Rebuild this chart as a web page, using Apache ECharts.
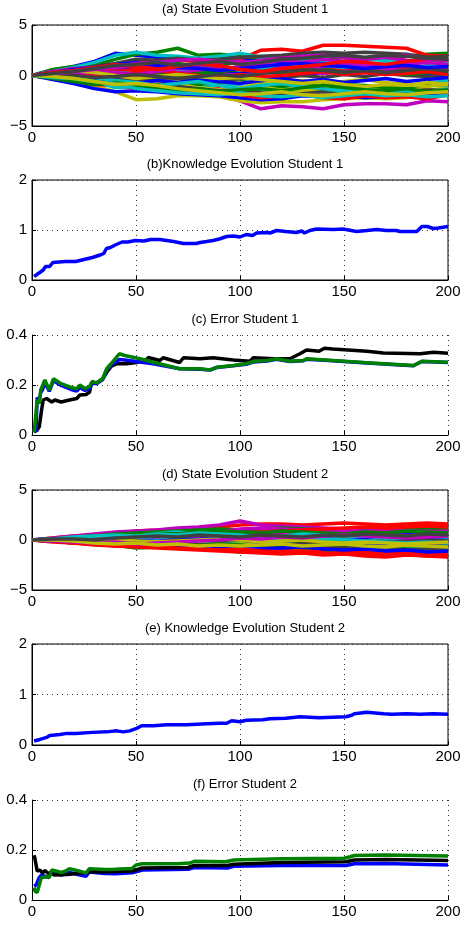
<!DOCTYPE html>
<html>
<head>
<meta charset="utf-8">
<style>
  html, body { margin: 0; padding: 0; background: #fff; }
  #chart { width: 465px; height: 927px; }
</style>
</head>
<body>
<div id="chart"></div>
<script src="https://cdn.jsdelivr.net/npm/echarts@6/dist/echarts.min.js"></script>
<script>
// MATLAB default colour order: b g r c m y k(dark gray)
var matlabColors = ['#0000ff', '#008000', '#ff0000', '#00bfbf', '#bf00bf', '#bfbf00', '#404040'];

// sampling steps for the state evolution panels
var stepT = [0, 10, 20, 30, 40, 50, 60, 70, 80, 90, 100, 110, 120, 130, 140, 150, 160, 170, 180, 190, 200];

// (a) State Evolution Student 1
var state1 = [
  [0,0.5,0.9,1.4,2.2,2.0,1.8,1.6,1.5,1.7,1.6,1.4,1.3,1.5,1.2,1.0,1.1,0.9,0.8,0.7,0.6],
  [0,0.6,0.9,1.0,1.6,2.1,2.3,2.7,2.0,2.1,1.9,1.7,1.8,1.6,1.5,1.8,1.6,1.7,1.9,2.1,2.2],
  [0,0.3,0.4,0.7,0.9,1.2,1.3,1.5,1.4,1.5,1.6,2.5,2.6,2.4,3.0,3.0,2.9,2.8,2.7,2.0,1.9],
  [0,0.4,0.8,1.3,2.0,2.3,2.0,1.9,1.7,1.9,2.2,1.8,1.6,1.4,1.5,1.3,1.5,1.6,1.4,1.5,1.3],
  [0,-0.3,-0.5,-0.8,-0.9,-1.0,-1.2,-1.4,-1.6,-2.0,-2.5,-3.3,-3.0,-3.1,-3.3,-2.9,-2.8,-2.8,-2.9,-2.5,-2.6],
  [0,-0.2,-0.6,-1.0,-1.6,-2.4,-2.3,-2.0,-2.0,-2.1,-2.5,-2.7,-2.6,-2.6,-2.4,-2.3,-2.2,-2.3,-2.2,-1.5,-1.2],
  [0,0.3,0.6,0.9,1.2,1.6,1.5,1.7,1.5,1.6,1.8,1.9,2.0,2.2,2.3,2.2,2.3,2.2,2.1,1.8,1.9],
  [0,-0.4,-0.8,-1.3,-1.6,-1.5,-1.6,-1.8,-1.9,-2.0,-2.2,-2.4,-2.3,-2.0,-2.1,-2.0,-2.2,-2.1,-2.0,-1.8,-1.7],
  [0,0.2,0.5,0.5,0.9,0.8,1.0,1.2,0.9,1.1,1.3,0.9,1.0,0.7,0.8,0.6,0.5,0.7,0.6,0.4,0.3],
  [0,-0.2,-0.5,-0.9,-1.0,-1.3,-1.1,-1.0,-1.4,-1.3,-1.9,-2.2,-2.0,-1.8,-2.2,-2.3,-2.0,-2.2,-2.1,-2.3,-1.9],
  [0,-0.1,-0.4,-0.6,-1.2,-1.1,-1.4,-1.2,-1.3,-0.9,-1.1,-1.4,-1.6,-1.7,-1.5,-1.3,-1.2,-1.0,-0.9,-0.8,-0.5],
  [0,0.4,0.7,0.8,0.6,0.9,1.1,0.8,1.0,1.3,1.4,1.2,1.5,1.3,1.6,1.4,1.6,1.8,1.5,1.2,1.0],
  [0,0.2,0.4,0.2,-0.2,-0.4,-0.5,-0.9,-1.2,-1.4,-1.2,-1.0,-1.3,-1.5,-1.4,-1.7,-1.5,-1.3,-1.2,-1.4,-1.3],
  [0,-0.1,-0.3,-0.5,-0.8,-1.0,-0.8,-1.1,-1.3,-1.5,-1.4,-1.7,-1.9,-1.8,-1.6,-1.7,-1.5,-1.7,-1.6,-1.4,-1.5],
  [0,0.1,0.3,0.2,0.4,0.7,0.5,0.3,0.6,0.4,0.2,0.5,0.3,0.1,0.3,0.5,0.4,0.2,0.3,0.1,-0.1],
  [0,-0.2,-0.2,-0.5,-0.4,-0.3,-0.6,-0.5,-0.9,-0.7,-0.6,-0.8,-1.1,-0.9,-0.7,-0.9,-1.0,-1.2,-1.1,-1.0,-0.9],
  [0,0.2,0.3,0.5,0.4,0.6,0.8,0.6,0.5,0.9,0.7,0.3,0.4,0.6,0.5,0.7,0.9,0.6,0.8,0.9,0.7],
  [0,0.1,0.2,0.1,0.3,0.2,0.4,0.6,0.3,0.5,0.8,0.6,0.9,0.7,1.0,0.8,1.1,1.3,1.0,0.9,1.2],
  [0,-0.1,0.0,0.2,0.1,-0.2,0.1,0.3,0.4,0.2,0.0,0.3,0.5,0.4,0.2,0.4,0.3,0.6,0.5,0.7,0.8],
  [0,0.1,-0.1,-0.3,-0.5,-0.3,-0.6,-0.4,-0.2,-0.4,-0.7,-0.9,-0.7,-0.5,-0.8,-0.6,-0.4,-0.7,-0.9,-1.1,-0.8],
  [0,0.0,-0.2,-0.4,-0.3,-0.5,-0.3,-0.2,-0.4,-0.6,-0.3,-0.1,-0.2,0.0,-0.2,0.1,-0.1,0.2,0.0,-0.1,0.2],
  [0,-0.2,-0.4,-0.3,-0.6,-0.8,-0.5,-0.7,-0.4,-0.6,-0.8,-0.5,-0.3,-0.6,-0.4,-0.7,-0.5,-0.3,-0.6,-0.4,-0.2],
  [0,0.1,0.3,0.4,0.2,0.1,0.3,0.0,0.2,0.4,0.6,0.4,0.2,0.4,0.6,0.3,0.5,0.3,0.1,0.3,0.5],
  [0,0.0,0.2,-0.1,0.1,0.3,0.5,0.2,0.0,-0.2,0.1,-0.1,0.0,0.2,0.4,0.1,0.3,0.1,0.2,0.4,0.1],
  [0,-0.1,-0.3,-0.2,-0.5,-0.7,-1.0,-0.8,-0.6,-1.0,-1.3,-1.0,-0.8,-1.1,-1.3,-1.6,-1.4,-1.6,-1.5,-1.7,-1.3],
  [0,0.2,0.1,0.4,0.3,0.1,0.4,0.7,0.8,0.6,0.9,1.1,0.9,0.7,0.9,1.2,1.0,0.9,1.1,1.3,1.1],
  [0,0.2,0.5,0.3,0.0,-0.3,-0.1,0.1,-0.1,-0.3,-0.2,-0.4,-0.6,-0.8,-0.6,-0.9,-1.1,-0.9,-1.0,-0.7,-0.9],
  [0,0.1,0.0,-0.2,-0.1,0.1,-0.1,-0.3,-0.1,0.1,-0.1,0.2,0.4,0.6,0.5,0.3,0.5,0.3,0.5,0.7,0.4],
  [0,0.3,0.6,0.8,1.1,1.3,1.0,0.8,0.7,0.5,0.7,0.9,1.1,1.2,1.0,0.9,0.7,0.9,1.0,0.8,0.9],
  [0,-0.3,-0.6,-0.9,-0.7,-1.0,-1.2,-1.5,-1.3,-1.6,-1.4,-1.3,-1.5,-1.2,-1.0,-1.2,-1.4,-1.5,-1.3,-1.6,-1.4],
  [0,0.3,0.5,0.8,1.1,0.9,0.6,0.9,1.2,1.0,0.6,0.4,0.7,0.9,1.1,1.4,1.3,1.1,1.4,1.6,1.5],
  [0,-0.2,-0.3,-0.6,-0.8,-1.3,-1.5,-1.7,-1.8,-1.9,-1.7,-2.0,-2.1,-1.9,-2.2,-2.0,-1.8,-2.0,-1.9,-2.1,-2.0],
  [0,0.1,0.4,0.6,0.9,1.2,1.3,1.5,1.6,1.4,1.2,1.5,1.7,1.9,2.0,1.8,1.7,1.9,2.0,1.6,1.5],
  [0,-0.1,-0.3,-0.6,-0.9,-0.8,-1.0,-1.3,-1.5,-1.7,-1.9,-1.8,-1.6,-1.9,-2.0,-1.8,-1.6,-1.8,-1.9,-1.7,-1.6],
  [0,0.2,0.4,0.7,1.0,1.1,1.3,1.0,1.2,1.4,1.1,1.3,1.6,1.7,1.9,2.0,1.8,2.0,1.9,1.7,1.6]
];

// (d) State Evolution Student 2
var state2 = [
  [0,0.1,0.2,0.3,0.4,0.5,0.6,0.5,0.6,0.7,0.6,0.8,0.7,0.6,0.8,0.9,0.7,0.8,0.6,0.7,0.8],
  [0,-0.1,-0.3,-0.4,-0.5,-0.8,-0.7,-0.8,-0.9,-1.0,-1.2,-1.0,-1.1,-1.0,-1.2,-1.1,-1.3,-1.2,-1.3,-1.2,-1.4],
  [0,0.2,0.4,0.5,0.7,0.9,1.0,1.1,1.2,1.3,1.5,1.6,1.6,1.5,1.6,1.7,1.6,1.5,1.6,1.7,1.6],
  [0,0.1,0.2,0.3,0.5,0.6,0.5,0.4,0.3,0.1,-0.2,-0.5,-0.7,-0.8,-0.9,-1.0,-1.3,-1.3,-1.4,-1.3,-1.2],
  [0,0.2,0.4,0.6,0.8,0.9,1.0,1.2,1.3,1.5,1.9,1.5,1.4,1.3,1.2,1.1,1.2,1.1,1.0,1.1,1.2],
  [0,0.0,-0.1,-0.2,-0.1,-0.3,-0.2,-0.3,-0.1,-0.2,-0.3,-0.4,-0.5,-0.4,-0.6,-0.5,-0.7,-0.6,-0.8,-0.7,-0.6],
  [0,-0.1,-0.3,-0.2,-0.4,-0.5,-0.3,-0.4,-0.5,-0.3,-0.4,-0.6,-0.5,-0.4,-0.3,-0.2,-0.3,-0.4,-0.3,-0.2,-0.3],
  [0,0.0,0.1,0.2,0.3,0.2,0.0,-0.1,-0.2,-0.1,0.1,0.2,0.3,0.4,0.2,0.1,0.0,0.1,0.2,0.3,0.1],
  [0,0.1,0.3,0.4,0.6,0.7,0.8,0.9,1.0,1.1,1.0,1.1,1.2,1.1,1.0,1.1,1.0,1.1,1.2,1.1,1.0],
  [0,-0.2,-0.3,-0.5,-0.6,-0.7,-0.8,-0.9,-1.0,-1.1,-1.2,-1.3,-1.4,-1.3,-1.5,-1.4,-1.6,-1.7,-1.5,-1.6,-1.5],
  [0,0.1,0.2,0.3,0.4,0.6,0.7,0.8,0.6,0.5,0.6,0.4,0.3,0.2,0.1,0.3,0.2,0.1,0.0,-0.1,0.0],
  [0,0.1,0.2,0.3,0.2,0.4,0.5,0.6,0.7,0.8,1.1,1.2,1.1,1.0,1.1,1.0,0.9,1.0,0.9,0.8,0.9],
  [0,0.1,0.0,0.1,0.2,0.1,0.2,0.3,0.4,0.3,0.4,0.3,0.2,0.1,0.2,0.1,-0.1,-0.2,-0.3,-0.4,-0.5],
  [0,0.1,0.2,0.1,0.3,0.2,0.3,0.4,0.3,0.2,0.1,0.0,-0.1,0.0,0.1,0.0,-0.2,-0.1,-0.3,-0.2,-0.4],
  [0,0.0,-0.1,-0.2,-0.3,-0.2,-0.1,-0.2,-0.3,-0.4,-0.5,-0.3,-0.2,-0.4,-0.5,-0.6,-0.5,-0.4,-0.6,-0.5,-0.7],
  [0,0.0,0.1,0.0,-0.1,0.0,0.1,0.2,0.1,0.3,0.5,0.4,0.6,0.5,0.4,0.5,0.6,0.5,0.4,0.5,0.6],
  [0,-0.1,-0.2,-0.4,-0.5,-0.6,-0.5,-0.7,-0.6,-0.8,-0.9,-0.8,-0.9,-1.0,-0.9,-1.1,-1.0,-1.2,-1.1,-1.3,-1.2],
  [0,0.1,0.1,0.2,0.1,0.0,0.1,-0.1,-0.2,-0.3,-0.4,-0.6,-0.5,-0.3,-0.5,-0.4,-0.6,-0.7,-0.8,-0.9,-1.0],
  [0,0.0,-0.1,0.0,-0.2,-0.1,0.0,0.2,0.1,0.3,0.4,0.6,0.7,0.8,0.7,0.9,0.8,0.7,0.8,0.9,0.8],
  [0,-0.1,-0.2,-0.1,-0.3,-0.4,-0.2,-0.3,-0.4,-0.5,-0.4,-0.6,-0.7,-0.8,-0.7,-0.9,-0.8,-1.0,-0.9,-1.1,-1.0],
  [0,0.0,0.1,0.2,0.1,0.2,0.3,0.1,0.0,-0.1,0.0,-0.2,-0.1,-0.3,-0.2,-0.4,-0.3,-0.2,-0.1,0.0,-0.1],
  [0,0.1,0.0,-0.1,0.0,0.1,0.2,0.3,0.2,0.4,0.3,0.2,0.3,0.2,0.4,0.3,0.2,0.4,0.5,0.4,0.3],
  [0,0.0,-0.1,-0.2,-0.2,-0.3,-0.4,-0.3,-0.5,-0.4,-0.5,-0.7,-0.6,-0.8,-0.7,-0.8,-0.9,-0.8,-0.9,-1.0,-0.9],
  [0,0.1,0.2,0.3,0.2,0.3,0.4,0.5,0.6,0.5,0.7,0.8,0.9,1.0,1.1,1.2,1.3,1.2,1.3,1.4,1.3],
  [0,0.0,0.1,0.2,0.1,0.3,0.2,0.4,0.5,0.4,0.2,0.0,-0.1,0.0,0.1,0.0,-0.1,-0.2,-0.3,-0.2,-0.3],
  [0,0.1,0.3,0.2,0.3,0.4,0.3,0.5,0.4,0.6,0.5,0.7,0.6,0.5,0.6,0.7,0.6,0.5,0.4,0.5,0.4],
  [0,0.0,0.1,-0.1,0.0,-0.1,-0.2,-0.1,0.0,0.1,0.0,-0.2,-0.1,0.0,-0.2,-0.3,-0.2,-0.3,-0.4,-0.3,-0.2],
  [0,-0.1,-0.2,-0.3,-0.4,-0.3,-0.5,-0.6,-0.5,-0.6,-0.7,-0.8,-0.7,-0.6,-0.8,-0.7,-0.9,-0.8,-1.0,-0.9,-0.8],
  [0,-0.1,-0.2,-0.3,-0.4,-0.5,-0.6,-0.5,-0.7,-0.6,-0.8,-0.9,-0.8,-0.7,-0.9,-1.0,-0.9,-1.1,-1.0,-1.2,-1.1],
  [0,0.1,0.2,0.4,0.5,0.6,0.7,0.6,0.8,0.9,0.8,0.7,0.9,0.8,0.7,0.6,0.8,0.7,0.9,0.8,0.7],
  [0,-0.1,-0.3,-0.4,-0.6,-0.5,-0.7,-0.8,-0.9,-1.0,-0.9,-1.1,-1.2,-1.1,-1.3,-1.4,-1.3,-1.5,-1.4,-1.6,-1.7],
  [0,0.1,0.3,0.4,0.5,0.4,0.6,0.5,0.7,0.6,0.5,0.3,0.4,0.6,0.5,0.3,0.4,0.2,0.3,0.4,0.3],
  [0,-0.1,-0.2,-0.3,-0.2,-0.4,-0.3,-0.2,-0.1,0.0,0.2,0.1,0.3,0.2,0.4,0.5,0.4,0.3,0.2,0.3,0.4],
  [0,0.0,-0.1,-0.3,-0.4,-0.3,-0.5,-0.4,-0.6,-0.5,-0.6,-0.5,-0.4,-0.6,-0.5,-0.4,-0.6,-0.7,-0.5,-0.6,-0.7],
  [0,0.1,0.1,0.0,0.2,0.3,0.4,0.3,0.5,0.4,0.3,0.5,0.4,0.3,0.5,0.4,0.6,0.5,0.4,0.6,0.5]
];

// (b) Knowledge Evolution Student 1
var know1T = [1,5.4,6.5,8.5,10,16,21,24,29,32.8,34.5,35.8,37.7,40,43.3,46,49.8,53.8,57,61.5,68,72.8,79,80.8,84,87,90,93.6,96.8,100,103,106,108,113,114.4,117.6,122,127,129.7,131,133.6,136.8,145,149.6,156,161,165.7,170.4,175,177,185,187.4,190,193,195.4,200];
var know1V = [0.07,0.2,0.27,0.27,0.35,0.37,0.37,0.4,0.45,0.5,0.53,0.63,0.65,0.7,0.76,0.76,0.79,0.78,0.81,0.81,0.77,0.73,0.73,0.75,0.77,0.79,0.82,0.87,0.88,0.86,0.91,0.89,0.94,0.95,0.94,0.99,0.97,0.95,0.98,0.94,0.99,1.02,1.01,1.02,0.97,0.99,1.01,0.99,0.99,0.97,0.97,1.07,1.07,1.03,1.04,1.07];

// (e) Knowledge Evolution Student 2
var know2T = [1,3.8,7,8.6,13.4,16.7,21,29,35.9,40.7,43.9,47,50.3,52.7,58.3,64.8,74.4,84,90.4,93.6,96,100,103,111,114.4,122,128.8,138,151,153.7,155,161,169,173,180,186.6,193,200];
var know2V = [0.08,0.11,0.15,0.19,0.21,0.23,0.23,0.25,0.26,0.28,0.26,0.28,0.33,0.38,0.38,0.4,0.4,0.42,0.43,0.43,0.48,0.46,0.49,0.5,0.52,0.53,0.56,0.54,0.56,0.59,0.62,0.65,0.62,0.61,0.62,0.61,0.62,0.61];

// (c) Error Student 1
var err1BlackT = [1,2.2,3.5,4.6,5.4,7,9.5,11,14,18,21.5,23,26,27.7,28.5,31,34,35.9,38,40.7,45.5,50.3,55,55.9,61.5,63,71,72.8,80.8,87,96.8,104.8,106.4,116,124,128.8,132,138,140.6,144.6,161,169,186.6,193,200];
var err1BlackV = [0.013,0.017,0.033,0.1,0.14,0.146,0.132,0.14,0.132,0.14,0.146,0.16,0.162,0.172,0.205,0.208,0.225,0.25,0.274,0.285,0.285,0.29,0.3,0.31,0.298,0.309,0.29,0.309,0.305,0.309,0.3,0.295,0.309,0.305,0.305,0.325,0.34,0.335,0.347,0.344,0.335,0.328,0.325,0.331,0.327];
var err1ErrT = [1,1.9,2.5,3.5,4.2,5,6.2,8.3,10.3,14,18.8,21.5,23,25.5,27.7,29,31,34,35.9,38,42,44.6,51.9,58.3,71,80.8,85.6,88.8,96.8,103,106.4,113,117.6,124,130.4,132,144.6,161,183.4,187.4,200];
var err1BlueV = [0.01,0.02,0.15,0.14,0.17,0.18,0.21,0.175,0.218,0.198,0.182,0.176,0.19,0.178,0.187,0.21,0.205,0.222,0.26,0.28,0.302,0.3,0.292,0.285,0.265,0.263,0.26,0.27,0.277,0.283,0.292,0.296,0.303,0.294,0.297,0.303,0.297,0.288,0.277,0.294,0.29];
var err1GreenV = [0.01,0.013,0.14,0.126,0.18,0.185,0.22,0.18,0.225,0.205,0.19,0.185,0.2,0.185,0.195,0.215,0.208,0.225,0.265,0.285,0.325,0.318,0.305,0.291,0.265,0.265,0.26,0.271,0.278,0.285,0.294,0.298,0.305,0.295,0.298,0.305,0.298,0.289,0.278,0.295,0.291];

// (f) Error Student 2
var err2BlackT = [1,1.4,2.5,3.8,5,6.2,7.8,9,10.5,17,26,28,37,48,51,53,75,78,94,97,120,151,155,170,200];
var err2BlackV = [0.179,0.166,0.115,0.12,0.108,0.118,0.106,0.11,0.1,0.102,0.11,0.113,0.113,0.116,0.123,0.128,0.13,0.138,0.138,0.143,0.15,0.153,0.16,0.162,0.158];
var err2GreenT = [1,1.5,2.5,3.5,4.5,7,8.3,9.5,12,14,16,18,22,26,27.5,35,40,48,50,53,70,76,78,93,97,120,150,153,155,170,200];
var err2GreenV = [0.05,0.035,0.03,0.06,0.09,0.093,0.09,0.12,0.115,0.11,0.115,0.125,0.117,0.108,0.125,0.122,0.123,0.126,0.14,0.145,0.145,0.148,0.155,0.153,0.16,0.165,0.167,0.173,0.178,0.18,0.176];
var err2BlueT = [1,2,3.5,4.5,8,9.5,12,14,16,18,22,26,27.5,35,40,48,50,53,75,78,94,97,120,151,155,170,200];
var err2BlueV = [0.055,0.06,0.09,0.1,0.09,0.115,0.105,0.1,0.105,0.11,0.102,0.095,0.112,0.106,0.105,0.109,0.113,0.12,0.123,0.13,0.128,0.135,0.138,0.138,0.145,0.146,0.14];

var titles = ['(a) State Evolution Student 1', '(b)Knowledge Evolution Student 1', '(c) Error Student 1',
              '(d) State Evolution Student 2', '(e) Knowledge Evolution Student 2', '(f) Error Student 2'];

var FONT = '"Liberation Sans", Arial, Helvetica, sans-serif';
var plotLeft = 32, plotWidth = 416;
// panel placement: top, height, yMin, yMax, yStep, box
var panels = [
  { top: 25,  height: 101, min: -5, max: 5,   step: 5,   box: true },
  { top: 180, height: 100, min: 0,  max: 2,   step: 1,   box: true },
  { top: 335, height: 100, min: 0,  max: 0.4, step: 0.2, box: false },
  { top: 490, height: 100, min: -5, max: 5,   step: 5,   box: true },
  { top: 644, height: 101, min: 0,  max: 2,   step: 1,   box: true },
  { top: 800, height: 100, min: 0,  max: 0.4, step: 0.2, box: false }
];

function zip(t, v) {
  return t.map(function (x, i) { return [x, v[i]]; });
}

var dotted = { show: true, lineStyle: { color: '#333', width: 1, type: [1, 4] } };

var grid = [], xAxis = [], yAxis = [], title = [], series = [];
panels.forEach(function (p, i) {
  grid.push({
    left: plotLeft, top: p.top, width: plotWidth, height: p.height,
    show: p.box, borderColor: '#000', borderWidth: 1, backgroundColor: 'transparent'
  });
  xAxis.push({
    gridIndex: i, type: 'value', min: 0, max: 200, interval: 50,
    axisLine: { show: true, onZero: false, lineStyle: { color: '#000', width: 1 } },
    axisTick: { show: true, inside: true, length: 4, lineStyle: { color: '#000' } },
    axisLabel: { color: '#000', fontSize: 15, fontFamily: FONT, margin: 4 },
    splitLine: dotted
  });
  yAxis.push({
    gridIndex: i, type: 'value', min: p.min, max: p.max, interval: p.step,
    axisLine: { show: true, onZero: false, lineStyle: { color: '#000', width: 1 } },
    axisTick: { show: true, inside: true, length: 4, lineStyle: { color: '#000' } },
    axisLabel: {
      color: '#000', fontSize: 15, fontFamily: FONT, margin: 5,
      formatter: function (v) { return v < 0 ? '\u2212' + Math.abs(v) : String(v); }
    },
    splitLine: dotted
  });
  title.push({
    text: titles[i], left: plotLeft + plotWidth / 2, textAlign: 'center', top: p.top - 27,
    textStyle: { fontSize: 13, fontWeight: 'normal', color: '#000', fontFamily: FONT }
  });
});

function addLine(gi, data, color) {
  series.push({
    type: 'line', xAxisIndex: gi, yAxisIndex: gi, data: data,
    showSymbol: false, symbol: 'none', silent: true, animation: false,
    lineStyle: { color: color, width: 3.5 }
  });
}

state1.forEach(function (v, k) { addLine(0, zip(stepT, v), matlabColors[k % 7]); });
addLine(1, zip(know1T, know1V), '#0000ff');
addLine(2, zip(err1BlackT, err1BlackV), '#000000');
addLine(2, zip(err1ErrT, err1BlueV), '#0000ff');
addLine(2, zip(err1ErrT, err1GreenV), '#008000');
state2.forEach(function (v, k) { addLine(3, zip(stepT, v), matlabColors[k % 7]); });
addLine(4, zip(know2T, know2V), '#0000ff');
addLine(5, zip(err2BlueT, err2BlueV), '#0000ff');
addLine(5, zip(err2BlackT, err2BlackV), '#000000');
addLine(5, zip(err2GreenT, err2GreenV), '#008000');

var myChart = echarts.init(document.getElementById('chart'), null, { renderer: 'canvas' });
myChart.setOption({
  animation: false,
  backgroundColor: '#fff',
  title: title,
  grid: grid,
  xAxis: xAxis,
  yAxis: yAxis,
  series: series
});
</script>
</body>
</html>
